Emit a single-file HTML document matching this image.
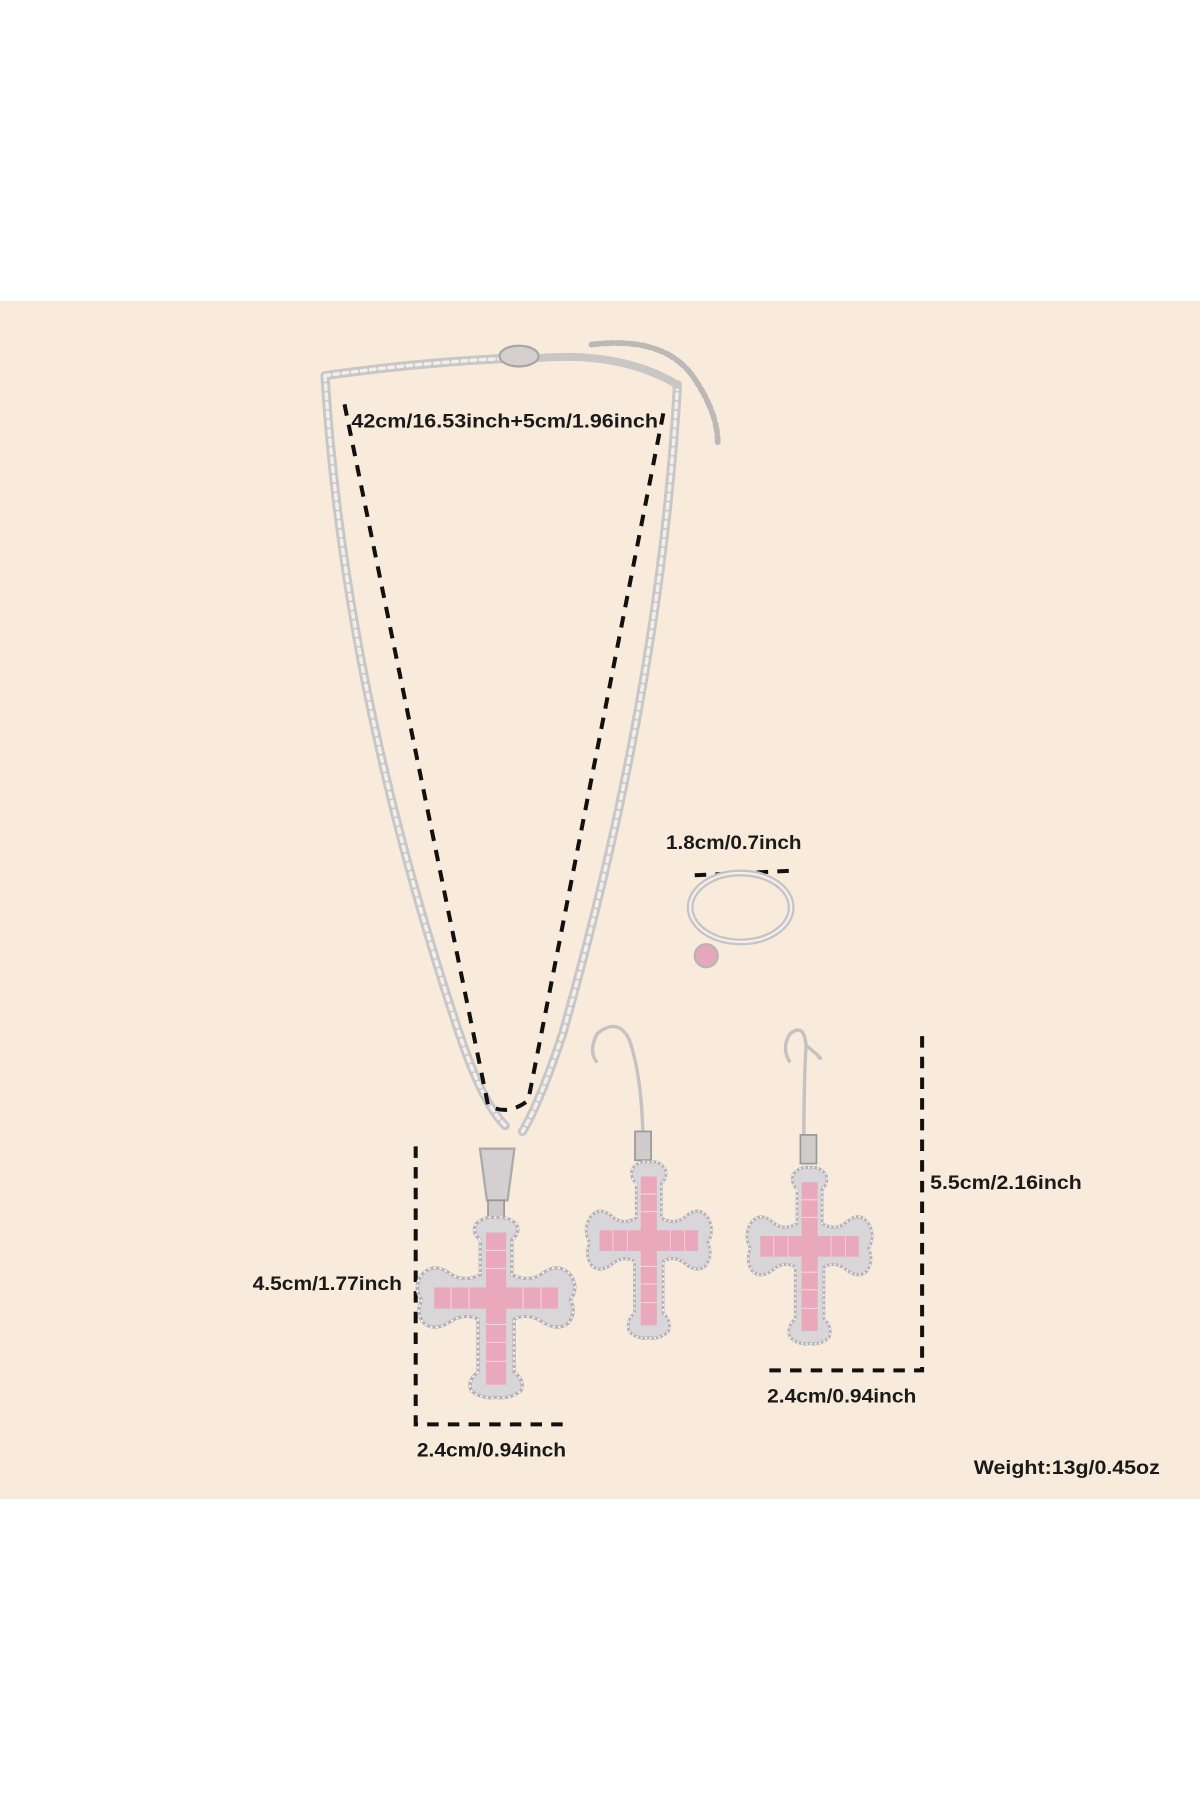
<!DOCTYPE html>
<html><head><meta charset="utf-8"><style>
html,body{margin:0;padding:0;background:#fff;}
svg{display:block;}
text{font-family:"Liberation Sans",sans-serif;font-weight:bold;fill:#1a1a1a;}
</style></head><body>
<svg width="1200" height="1800" viewBox="0 0 1045 1567" preserveAspectRatio="none">
<defs>
<g id="cross">
 <path d="M-14,-55 Q-22,-62 -18,-70 Q-10,-78 0,-76 Q10,-78 18,-70 Q22,-62 14,-55 L14,-22 Q30,-14 42,-24 Q56,-34 66,-22 Q74,-10 66,2 Q72,14 64,24 Q54,32 40,22 Q28,14 16,20 L16,70 Q26,78 22,88 Q12,96 0,94 Q-12,96 -22,88 Q-26,78 -16,70 L-16,20 Q-28,14 -40,22 Q-54,32 -64,24 Q-72,14 -66,2 Q-74,-10 -66,-22 Q-56,-34 -42,-24 Q-30,-14 -14,-22 Z" fill="#d9d6da" stroke="#b8b3b6" stroke-width="3"/>
 <path d="M-14,-55 Q-22,-62 -18,-70 Q-10,-78 0,-76 Q10,-78 18,-70 Q22,-62 14,-55 L14,-22 Q30,-14 42,-24 Q56,-34 66,-22 Q74,-10 66,2 Q72,14 64,24 Q54,32 40,22 Q28,14 16,20 L16,70 Q26,78 22,88 Q12,96 0,94 Q-12,96 -22,88 Q-26,78 -16,70 L-16,20 Q-28,14 -40,22 Q-54,32 -64,24 Q-72,14 -66,2 Q-74,-10 -66,-22 Q-56,-34 -42,-24 Q-30,-14 -14,-22 Z" fill="none" stroke="#f4f2f4" stroke-width="2" stroke-dasharray="2 3"/>
 <rect x="-9" y="-62" width="18" height="144" fill="#e9a8bb"/>
 <rect x="-55" y="-10" width="110" height="20" fill="#e9a8bb"/>
 <g stroke="#f7d3de" stroke-width="1">
  <line x1="-9" y1="-45" x2="9" y2="-45"/><line x1="-9" y1="-28" x2="9" y2="-28"/><line x1="-9" y1="25" x2="9" y2="25"/><line x1="-9" y1="42" x2="9" y2="42"/><line x1="-9" y1="60" x2="9" y2="60"/>
  <line x1="-40" y1="-10" x2="-40" y2="10"/><line x1="-24" y1="-10" x2="-24" y2="10"/><line x1="24" y1="-10" x2="24" y2="10"/><line x1="40" y1="-10" x2="40" y2="10"/>
 </g>
</g>
</defs>
<rect x="0" y="262" width="1045" height="1043" fill="#f8ebdc"/>
<g fill="none" stroke-linecap="round">
 <path d="M283,327 Q360,316 440,312 M283,327 Q300,600 400,900 Q420,960 440,980 M590,335 Q575,600 490,900 Q470,960 455,985" stroke="#c9c6c6" stroke-width="8"/>
 <path d="M283,327 Q360,316 440,312 M283,327 Q300,600 400,900 Q420,960 440,980 M590,335 Q575,600 490,900 Q470,960 455,985" stroke="#f1efee" stroke-width="3" stroke-dasharray="4 4"/>
 <path d="M465,312 Q540,305 590,335" stroke="#c9c6c6" stroke-width="7"/>
 <ellipse cx="452" cy="310" rx="17" ry="9" fill="#d4d0cf" stroke="#aaa6a5" stroke-width="2"/>
 <path d="M515,300 Q580,292 605,330 Q625,360 625,385" stroke="#bcb8b7" stroke-width="5" stroke-dasharray="8 3"/>
</g>
<g stroke="#111" stroke-width="3.5" fill="none" stroke-dasharray="10 8">
 <path d="M300,352 L425,962 Q442,972 460,958 L578,358"/>
 <path d="M362,998 L362,1240 L490,1240"/>
 <path d="M803,902 L803,1193 L668,1193"/>
 <path d="M605,762 L690,758"/>
</g>
<text x="306" y="372" font-size="17" textLength="267" lengthAdjust="spacingAndGlyphs">42cm/16.53inch+5cm/1.96inch</text>
<text x="220" y="1123" font-size="17" textLength="130" lengthAdjust="spacingAndGlyphs">4.5cm/1.77inch</text>
<text x="363" y="1268" font-size="17" textLength="130" lengthAdjust="spacingAndGlyphs">2.4cm/0.94inch</text>
<text x="580" y="739" font-size="17" textLength="118" lengthAdjust="spacingAndGlyphs">1.8cm/0.7inch</text>
<text x="810" y="1035" font-size="17" textLength="132" lengthAdjust="spacingAndGlyphs">5.5cm/2.16inch</text>
<text x="668" y="1221" font-size="17" textLength="130" lengthAdjust="spacingAndGlyphs">2.4cm/0.94inch</text>
<text x="848" y="1283" font-size="17" textLength="162" lengthAdjust="spacingAndGlyphs">Weight:13g/0.45oz</text>
<path d="M418,1000 L448,1000 L442,1045 L424,1045 Z" fill="#d4d0d2" stroke="#aaa" stroke-width="2"/>
<rect x="425" y="1045" width="14" height="28" fill="#cfcbcb" stroke="#999" stroke-width="1.5"/>
<use href="#cross" transform="translate(432,1130) scale(0.98,0.92)"/>
<ellipse cx="645" cy="790" rx="44" ry="30" fill="none" stroke="#c7c3c2" stroke-width="6"/>
<ellipse cx="645" cy="790" rx="44" ry="30" fill="none" stroke="#f2f0ef" stroke-width="2"/>
<circle cx="615" cy="832" r="10" fill="#e6a6bb" stroke="#b9b5b5" stroke-width="2"/>
<g fill="none" stroke="#c6c2c2" stroke-width="3">
 <path d="M560,1000 Q560,940 548,905 Q538,885 520,900 Q512,915 520,925"/>
 <path d="M700,1000 Q700,940 702,910 Q700,890 688,900 Q680,912 688,925 M702,910 Q720,925 712,920"/>
</g>
<rect x="553" y="985" width="14" height="25" fill="#d0cccb" stroke="#999" stroke-width="1.5"/>
<rect x="697" y="988" width="14" height="25" fill="#d0cccb" stroke="#999" stroke-width="1.5"/>
<use href="#cross" transform="translate(565,1080) scale(0.78,0.9)"/>
<use href="#cross" transform="translate(705,1085) scale(0.78,0.9)"/>
</svg>
</body></html>
